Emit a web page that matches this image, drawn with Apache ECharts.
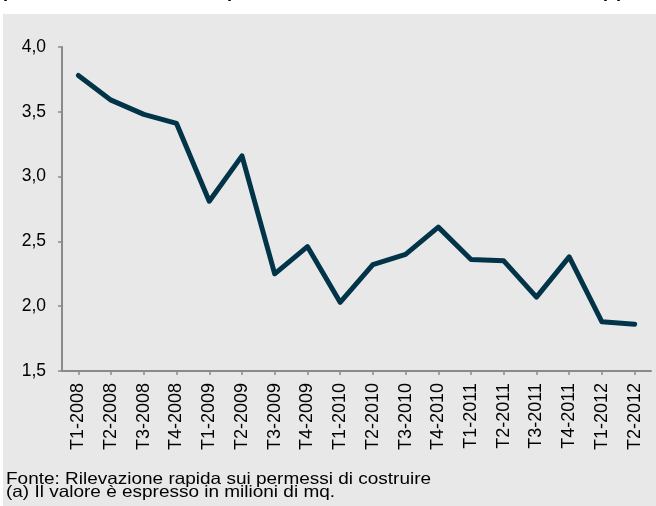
<!DOCTYPE html>
<html>
<head>
<meta charset="utf-8">
<script src="https://cdn.jsdelivr.net/npm/echarts@6/dist/echarts.min.js"></script>
<style>
html,body{margin:0;padding:0;background:#fff;}
#c{width:656px;height:506px;}
</style>
</head>
<body>
<div id="c"></div>
<script>
const categories = ["T1-2008","T2-2008","T3-2008","T4-2008","T1-2009","T2-2009","T3-2009","T4-2009","T1-2010","T2-2010","T3-2010","T4-2010","T1-2011","T2-2011","T3-2011","T4-2011","T1-2012","T2-2012"];
const values = [3.78,3.59,3.48,3.41,2.81,3.16,2.25,2.46,2.03,2.32,2.40,2.61,2.36,2.35,2.07,2.38,1.88,1.86];
const yTicks = [1.5,2.0,2.5,3.0,3.5,4.0];
const titleParts = ["parte residenziale","per nuove abitazioni","(a)"];
const notes = ["Fonte: Rilevazione rapida sui permessi di costruire","(a) Il valore è espresso in milioni di mq."];

const font = "'Liberation Sans', Arial, Helvetica, sans-serif";
const chart = echarts.init(document.getElementById('c'), null, {renderer:'canvas'});
chart.setOption({
  backgroundColor: '#ffffff',
  animation: false,
  graphic: [
    {type:'rect', z:-10, shape:{x:3,y:14,width:660,height:500}, style:{fill:'#e8e8e8'}},
    {type:'text', left:3, top:-17, style:{text:titleParts[0], font:'bold 18px '+font, fill:'#000'}},
    {type:'text', left:227, top:-17, style:{text:titleParts[1], font:'bold 18px '+font, fill:'#000'}},
    {type:'text', left:601, top:-17, style:{text:titleParts[2], font:'bold 18px '+font, fill:'#000'}},
    {type:'text', x:6, y:471, scaleX:1.15, style:{text:notes[0], font:'16.5px '+font, fill:'#000', textVerticalAlign:'top'}},
    {type:'text', x:6, y:484, scaleX:1.15, style:{text:notes[1], font:'16.5px '+font, fill:'#000', textVerticalAlign:'top'}}
  ],
  grid: {left:62, right:5, top:47, bottom:135, containLabel:false},
  xAxis: {
    type:'category',
    data: categories,
    boundaryGap: true,
    axisLine:{show:true, lineStyle:{color:'#8a8a8a', width:2}},
    axisTick:{show:true, alignWithLabel:true, length:4, lineStyle:{color:'#8a8a8a', width:1.5}},
    axisLabel:{rotate:90, margin:12, color:'#000', fontSize:18, fontFamily:font, interval:0},
    splitLine:{show:false}
  },
  yAxis: {
    type:'value',
    min: yTicks[0], max: yTicks[yTicks.length-1], interval: 0.5,
    axisLine:{show:true, lineStyle:{color:'#8a8a8a', width:2}},
    axisTick:{show:true, length:4, lineStyle:{color:'#8a8a8a', width:1.5}},
    axisLabel:{margin:16, color:'#000', fontSize:17.5, fontFamily:font,
      formatter: v => v.toFixed(1).replace('.', ',')},
    splitLine:{show:false}
  },
  series: [{
    type:'line',
    data: values,
    symbol:'none',
    lineStyle:{color:'#023449', width:5, join:'round', cap:'round'}
  }]
});
</script>
</body>
</html>
